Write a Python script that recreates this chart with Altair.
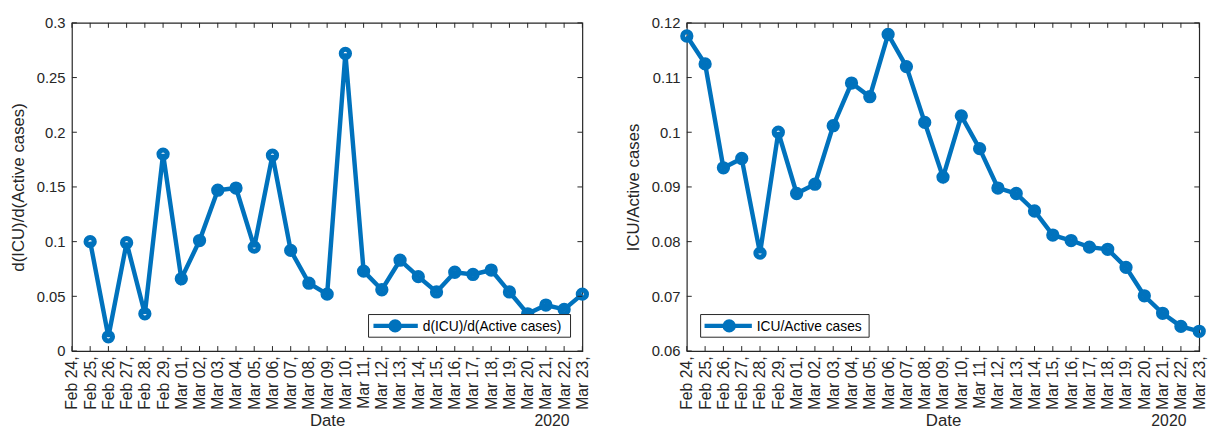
import altair as alt
import pandas as pd

dates = ["Feb 24", "Feb 25", "Feb 26", "Feb 27", "Feb 28", "Feb 29",
         "Mar 01", "Mar 02", "Mar 03", "Mar 04", "Mar 05", "Mar 06", "Mar 07",
         "Mar 08", "Mar 09", "Mar 10", "Mar 11", "Mar 12", "Mar 13", "Mar 14",
         "Mar 15", "Mar 16", "Mar 17", "Mar 18", "Mar 19", "Mar 20", "Mar 21",
         "Mar 22", "Mar 23"]
labels = [d + "," for d in dates]

# d(ICU)/d(Active cases), Feb 25 .. Mar 23
deriv_vals = [0.100, 0.013, 0.099, 0.034, 0.180, 0.066, 0.101, 0.147, 0.149,
              0.095, 0.179, 0.092, 0.062, 0.052, 0.272, 0.073, 0.056, 0.083,
              0.068, 0.054, 0.072, 0.070, 0.074, 0.054, 0.034, 0.042, 0.038,
              0.052]
# ICU/Active cases, Feb 24 .. Mar 23
ratio_vals = [0.1176, 0.1125, 0.0935, 0.0952, 0.0779, 0.1000, 0.0888, 0.0905,
              0.1012, 0.1090, 0.1065, 0.1179, 0.1120, 0.1018, 0.0918, 0.1030,
              0.0970, 0.0898, 0.0888, 0.0856, 0.0812, 0.0802, 0.0790, 0.0786,
              0.0753, 0.0701, 0.0669, 0.0645, 0.0636]

left_ticks = [0, 0.05, 0.1, 0.15, 0.2, 0.25, 0.3]
right_ticks = [0.06, 0.07, 0.08, 0.09, 0.1, 0.11, 0.12]

BLUE = "#0072BD"
INK = "#262626"
FONT = "Liberation Sans"
H = 333
TL = 5
MSIZE = 72
MSTROKE = 5


def panel(xs, ys, yticks, ytitle, legend_text, W, box, line_x, mark_x, text_x):
    df = pd.DataFrame({"d": xs, "v": ys})
    xscale = alt.Scale(domain=labels, type="point", padding=0)
    yscale = alt.Scale(domain=[yticks[0], yticks[-1]], nice=False, zero=False)
    xaxis = alt.Axis(title="Date", labelAngle=270, labelFontSize=16, labelColor=INK,
                     labelFont=FONT, ticks=False, domain=False, labelPadding=5,
                     titleFont=FONT, titleFontSize=17, titleFontWeight="normal",
                     titleColor=INK, titlePadding=3, grid=False)
    yaxis = alt.Axis(title=ytitle, values=yticks, format="~g", labelFontSize=15,
                     labelColor=INK, labelFont=FONT, ticks=False, domain=False,
                     labelPadding=7, titleFont=FONT, titleFontSize=17,
                     titleFontWeight="normal", titleColor=INK, titlePadding=9,
                     grid=False)
    base = alt.Chart(df)
    line = base.mark_line(color=BLUE, strokeWidth=4.5).encode(
        x=alt.X("d:N", scale=xscale, axis=xaxis, sort=labels),
        y=alt.Y("v:Q", scale=yscale, axis=yaxis),
    )
    pts = base.mark_point(color=BLUE, filled=False, strokeWidth=MSTROKE, size=MSIZE,
                          opacity=1).encode(
        x=alt.X("d:N", scale=xscale, sort=labels),
        y=alt.Y("v:Q", scale=yscale),
    )
    xt = alt.Chart(pd.DataFrame({"d": labels}))
    bt = xt.mark_rule(color=INK, strokeWidth=1).encode(
        x=alt.X("d:N", scale=xscale, sort=labels), y=alt.value(H - TL), y2=alt.value(H))
    tt = xt.mark_rule(color=INK, strokeWidth=1).encode(
        x=alt.X("d:N", scale=xscale, sort=labels), y=alt.value(0), y2=alt.value(TL))
    yt = alt.Chart(pd.DataFrame({"v": yticks}))
    lt = yt.mark_rule(color=INK, strokeWidth=1).encode(
        y=alt.Y("v:Q", scale=yscale), x=alt.value(0), x2=alt.value(TL))
    rt = yt.mark_rule(color=INK, strokeWidth=1).encode(
        y=alt.Y("v:Q", scale=yscale), x=alt.value(W - TL), x2=alt.value(W))

    one = alt.Chart(pd.DataFrame({"t": [legend_text]}))
    ly = (box[2] + box[3]) / 2
    lbox = one.mark_rect(fill="white", stroke=INK, strokeWidth=1).encode(
        x=alt.value(box[0]), x2=alt.value(box[1]), y=alt.value(box[2]), y2=alt.value(box[3]))
    lline = one.mark_rule(color=BLUE, strokeWidth=4.5).encode(
        x=alt.value(line_x[0]), x2=alt.value(line_x[1]), y=alt.value(ly))
    lpt = one.mark_point(color=BLUE, filled=False, strokeWidth=MSTROKE, size=MSIZE,
                         opacity=1).encode(
        x=alt.value(mark_x), y=alt.value(ly))
    ltxt = one.mark_text(align="left", baseline="middle", font=FONT, fontSize=14,
                         color="black").encode(
        x=alt.value(text_x), y=alt.value(ly + 1), text="t:N")
    yr = alt.Chart(pd.DataFrame({"t": ["2020"]})).mark_text(
        align="right", baseline="bottom", font=FONT, fontSize=16, color=INK).encode(
        x=alt.value(W - 13), y=alt.value(H + 79), text="t:N")

    return alt.layer(line, pts, bt, tt, lt, rt, lbox, lline, lpt, ltxt, yr).properties(
        width=W, height=H)


left = panel(labels[1:], deriv_vals, left_ticks, "d(ICU)/d(Active cases)",
             "d(ICU)/d(Active cases)", 518, (301, 506, 296, 319), (306, 351), 328, 356)
right = panel(labels, ratio_vals, right_ticks, "ICU/Active cases",
              "ICU/Active cases", 520, (14, 185, 296, 319), (18, 66), 43, 71)

chart = alt.hconcat(left, right, spacing=27).properties(
    padding={"left": 9, "top": 12, "right": 0, "bottom": 0},
    background="white",
).configure_view(stroke=INK, strokeWidth=1.2)

chart.save("out.html", embed_options={"renderer": "svg", "actions": False})
